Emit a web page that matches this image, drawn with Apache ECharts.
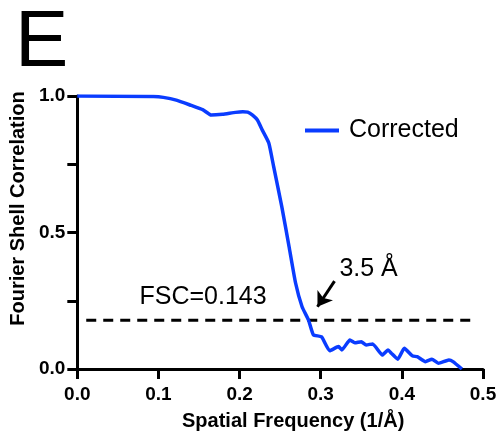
<!DOCTYPE html>
<html>
<head>
<meta charset="utf-8">
<script src="https://cdn.jsdelivr.net/npm/echarts@6/dist/echarts.min.js"></script>
<style>
  html, body { margin: 0; padding: 0; background: #fff; }
  #main { width: 500px; height: 436px; }
</style>
</head>
<body>
<div id="main"></div>
<script>
// spatial frequency (1/Å) and FSC values
var freq = [0, 0.094, 0.106, 0.122, 0.139, 0.155, 0.165, 0.179, 0.195, 0.204, 0.210, 0.216, 0.222,
  0.228, 0.236, 0.242, 0.252, 0.261, 0.269, 0.277, 0.285, 0.291, 0.301, 0.311, 0.322, 0.326,
  0.336, 0.342, 0.350, 0.356, 0.364, 0.376, 0.383, 0.387, 0.395, 0.403, 0.413, 0.419, 0.429,
  0.437, 0.445, 0.458, 0.463, 0.474];
var fsc = [1.0, 0.998, 0.995, 0.985, 0.967, 0.949, 0.930, 0.933, 0.940, 0.942, 0.941, 0.930, 0.912,
  0.875, 0.828, 0.741, 0.595, 0.448, 0.315, 0.228, 0.179, 0.125, 0.118, 0.067, 0.082, 0.070,
  0.106, 0.096, 0.100, 0.088, 0.092, 0.051, 0.070, 0.058, 0.036, 0.076, 0.048, 0.045, 0.027,
  0.036, 0.021, 0.033, 0.027, 0.0];
// threshold line as drawn
var cutX = [0.011, 0.492];
var cutY = 0.179;
var xTicks = [0, 0.1, 0.2, 0.3, 0.4, 0.5];
var yLabelled = [0, 0.5, 1];

var font = "'Liberation Sans', Arial, sans-serif";
var myChart = echarts.init(document.getElementById('main'));

var option = {
  animation: false,
  grid: { left: 73, right: 17, top: 96, bottom: 67 },
  legend: {
    left: 300, top: 113,
    itemWidth: 34, itemHeight: 4,
    data: [{ name: 'Corrected', icon: 'rect' }],
    textStyle: { fontFamily: font, fontSize: 25, color: '#000', padding: [0, 0, 0, 5] }
  },
  xAxis: {
    type: 'value', min: 0, max: 0.5, interval: 0.1,
    name: 'Spatial Frequency (1/Å)', nameLocation: 'middle', nameGap: 42,
    nameTextStyle: { fontFamily: font, fontSize: 20, fontWeight: 'bold', color: '#000', padding: [0, 0, 0, 26] },
    axisLine: { show: true, lineStyle: { color: '#000', width: 3 } },
    axisTick: { show: true, length: 10, lineStyle: { color: '#000', width: 3 } },
    axisLabel: {
      margin: 16, fontFamily: font, fontSize: 19, fontWeight: 'bold', color: '#000',
      formatter: function (v) { return xTicks.indexOf(+v.toFixed(1)) >= 0 ? v.toFixed(1) : ''; }
    },
    splitLine: { show: false }
  },
  yAxis: {
    type: 'value', min: 0, max: 1, interval: 0.25,
    name: 'Fourier Shell Correlation', nameLocation: 'middle', nameGap: 43, nameRotate: 90,
    nameTextStyle: { fontFamily: font, fontSize: 20, fontWeight: 'bold', color: '#000', padding: [0, 0, 0, 48] },
    axisLine: { show: true, lineStyle: { color: '#000', width: 3 } },
    axisTick: { show: true, length: 10, lineStyle: { color: '#000', width: 3 } },
    axisLabel: {
      margin: 12, fontFamily: font, fontSize: 19, fontWeight: 'bold', color: '#000',
      formatter: function (v) { return yLabelled.indexOf(v) >= 0 ? v.toFixed(1) : ''; }
    },
    splitLine: { show: false }
  },
  series: [
    {
      name: 'FSC=0.143',
      type: 'line',
      data: cutX.map(function (x) { return [x, cutY]; }),
      symbol: 'none',
      silent: true,
      lineStyle: { color: '#000', width: 3, type: [10, 7] },
      markLine: {
        silent: true,
        symbol: ['none', 'arrow'],
        symbolSize: 14,
        label: { show: false },
        lineStyle: { color: '#000', width: 3, type: 'solid' },
        data: [[{ coord: [0.317, 0.322] }, { coord: [0.296, 0.228] }]]
      },
      markPoint: {
        silent: true,
        symbol: 'circle', symbolSize: 1,
        itemStyle: { color: 'rgba(0,0,0,0)' },
        label: { show: true, fontFamily: font, fontSize: 25, color: '#000', position: 'inside' },
        data: [
          { coord: [0.155, 0.265], value: 'FSC=0.143', label: { formatter: 'FSC=0.143' } },
          { coord: [0.359, 0.365], value: '3.5 Å', label: { formatter: '3.5 Å' } }
        ]
      }
    },
    {
      name: 'Corrected',
      type: 'line',
      data: freq.map(function (x, i) { return [x, fsc[i]]; }),
      symbol: 'none',
      smooth: 0.15,
      lineStyle: { color: '#0a3cff', width: 3.5 },
      itemStyle: { color: '#0a3cff' }
    }
  ],
  graphic: [
    { type: 'text', left: 15, top: 4, style: { text: 'E', font: '80px ' + font, fill: '#000' } }
  ]
};

myChart.setOption(option);
window.addEventListener('resize', function () { myChart.resize(); });
</script>
</body>
</html>
